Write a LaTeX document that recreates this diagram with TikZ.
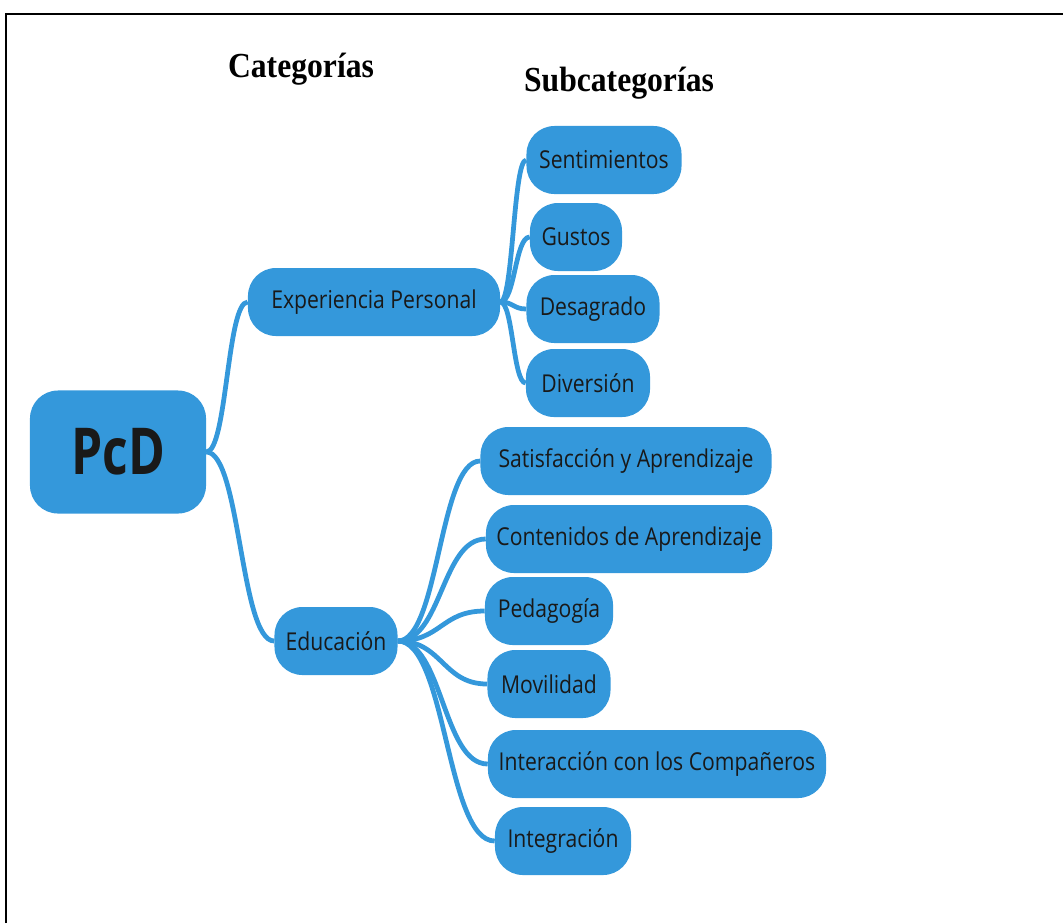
\documentclass[tikz,border=0pt]{standalone}
\usepackage{fontspec}
\newfontfamily\mapafont[FakeStretch=0.86]{Open Sans}
\newfontfamily\raizfont[FakeStretch=0.77]{Open Sans}
\newfontfamily\titulofont[FakeStretch=0.9]{Liberation Serif}
\usetikzlibrary{calc}

\begin{document}
\begin{tikzpicture}[
    x=0.025cm, y=-0.025cm,
    rama/.style={fill=azulMapa, rounded corners=0.7cm, inner sep=0pt, minimum height=1.7cm, text=black!90, font=\mapafont\fontsize{17.5}{20}\selectfont},
    titulo/.style={anchor=base, font=\titulofont\bfseries\fontsize{25}{28}\selectfont},
    linea/.style={draw=azulMapa, line width=3.4pt}
    ]
    % Colori
    \definecolor{azulMapa}{RGB}{52, 152, 219}

    \useasboundingbox (0,0) rectangle (1063,923);
    \draw[line width=2pt] (6,923) -- (6,14) -- (1063,14);

    % Titoli
    \node[titulo] (cat) at (301,77) {Categorías};
    \node[titulo] (subcat) at (619,91) {Subcategorías};

    % Nodo radice
    \node[rama, minimum width=4.4cm, minimum height=3.075cm, font=\raizfont\bfseries\fontsize{46}{50}\selectfont] (pcd) at (118,452) {PcD};

    % Categorie
    \node[rama, minimum width=6.3cm] (exp) at (374,302) {Experiencia Personal};
    \node[rama, minimum width=3.075cm] (edu) at (336,641) {Educación};

    % Subcategorie
    \node[rama, minimum width=3.875cm] (sent) at (604,160) {Sentimientos};
    \node[rama, minimum width=2.3cm] (gus) at (576,237) {Gustos};
    \node[rama, minimum width=3.325cm] (des) at (593,309) {Desagrado};
    \node[rama, minimum width=3.1cm] (div) at (588,383) {Diversión};

    \node[rama, minimum width=7.275cm] (sat) at (626,461) {Satisfacción y Aprendizaje};
    \node[rama, minimum width=7.15cm] (con) at (629,539) {Contenidos de Aprendizaje};
    \node[rama, minimum width=3.2cm] (ped) at (549,611) {Pedagogía};
    \node[rama, minimum width=3.075cm] (mov) at (549,684) {Movilidad};
    \node[rama, minimum width=8.45cm] (int) at (657,764) {Interacción con los Compañeros};
    \node[rama, minimum width=3.4cm] (integ) at (563,841) {Integración};

    % Connessioni
    \foreach \padre/\hijo in {pcd/exp, pcd/edu, exp/sent, exp/gus, exp/des, exp/div,
        edu/sat, edu/con, edu/ped, edu/mov, edu/int, edu/integ}
      \draw[linea] let \p1=(\padre.east), \p2=(\hijo.west) in
        (\p1) .. controls ({(\x1+\x2)/2},\y1) and ({(\x1+\x2)/2},\y2) .. (\p2);
\end{tikzpicture}
\end{document}
